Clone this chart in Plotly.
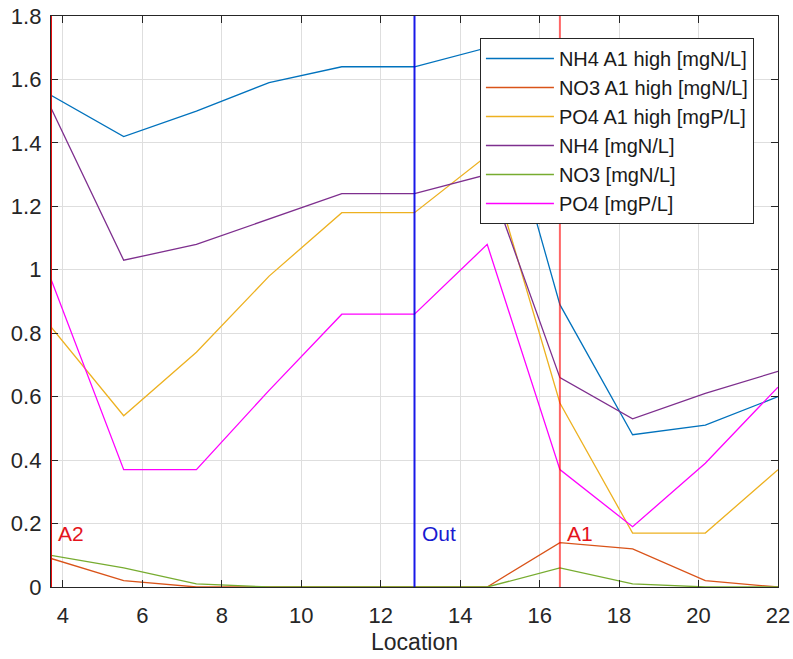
import plotly.graph_objects as go

# ---- data ----
location = [3.70, 5.53, 7.36, 9.19, 11.02, 12.85, 14.68, 16.51, 18.34, 20.17, 22.00]

nh4_a1_high = [1.55, 1.42, 1.50, 1.59, 1.64, 1.64, 1.70, 0.89, 0.48, 0.51, 0.60]
no3_a1_high = [0.09, 0.02, 0.00, 0.00, 0.00, 0.00, 0.00, 0.14, 0.12, 0.02, 0.00]
po4_a1_high = [0.82, 0.54, 0.74, 0.98, 1.18, 1.18, 1.36, 0.58, 0.17, 0.17, 0.37]
nh4 = [1.51, 1.03, 1.08, 1.16, 1.24, 1.24, 1.30, 0.66, 0.53, 0.61, 0.68]
no3 = [0.10, 0.06, 0.01, 0.00, 0.00, 0.00, 0.00, 0.06, 0.01, 0.00, 0.00]
po4 = [0.97, 0.37, 0.37, 0.62, 0.86, 0.86, 1.08, 0.37, 0.19, 0.39, 0.63]

series_names = ["NH4 A1 high [mgN/L]", "NO3 A1 high [mgN/L]", "PO4 A1 high [mgP/L]",
                "NH4 [mgN/L]", "NO3 [mgN/L]", "PO4 [mgP/L]"]
series_values = [nh4_a1_high, no3_a1_high, po4_a1_high, nh4, no3, po4]
series_colors = ["#0072BD", "#D95319", "#EDB120", "#7E2F8E", "#77AC30", "#FF00FF"]

marker_names = ["A2", "Out", "A1"]
marker_locations = [3.70, 12.85, 16.51]
marker_colors = ["rgba(230,0,0,0.95)", "rgba(0,0,230,0.9)", "rgba(255,0,0,0.6)"]
marker_text_colors = ["#E4141C", "#1A1AD0", "#E4141C"]

x_ticks = [4, 6, 8, 10, 12, 14, 16, 18, 20, 22]
y_ticks = [0, 0.2, 0.4, 0.6, 0.8, 1.0, 1.2, 1.4, 1.6, 1.8]

FONT = "Arial, 'Liberation Sans', Helvetica, sans-serif"
AX = "#262626"

fig = go.Figure()
for name, vals, col in zip(series_names, series_values, series_colors):
    fig.add_trace(go.Scatter(x=location, y=vals, mode="lines", name=name,
                             line=dict(color=col, width=1.3)))

for nm, xl, lc, tc in zip(marker_names, marker_locations, marker_colors, marker_text_colors):
    fig.add_shape(type="line", x0=xl, x1=xl, y0=0, y1=1, xref="x", yref="y domain",
                  line=dict(color=lc, width=2), layer="above")
    fig.add_annotation(x=xl, y=0.17, xref="x", yref="y", text=nm, showarrow=False,
                       xanchor="left", yanchor="middle", xshift=5,
                       font=dict(family=FONT, size=21, color=tc))

fig.update_layout(
    width=793, height=659,
    margin=dict(l=51, r=15, t=16, b=72),
    paper_bgcolor="white", plot_bgcolor="white",
    font=dict(family=FONT, size=21, color=AX),
    showlegend=True,
    legend=dict(x=0.590, y=0.9615, xanchor="left", yanchor="top",
                bgcolor="white", bordercolor="#262626", borderwidth=1,
                font=dict(family=FONT, size=20, color="#1a1a1a"),
                tracegroupgap=0, itemwidth=68),
)
fig.update_xaxes(range=[3.70, 22.0], tickvals=x_ticks, ticks="inside", ticklen=7,
                 tickcolor=AX, showline=True, linecolor=AX, linewidth=1.3, mirror="ticks",
                 showgrid=True, gridcolor="#DEDEDE", gridwidth=1, zeroline=False,
                 automargin=False, ticklabelstandoff=8,
                 tickfont=dict(size=22, color=AX),
                 title=dict(text="Location", font=dict(size=23, color=AX), standoff=7))
fig.update_yaxes(range=[0, 1.8], tickvals=y_ticks, ticks="inside", ticklen=7,
                 tickcolor=AX, showline=True, linecolor=AX, linewidth=1.3, mirror="ticks",
                 showgrid=True, gridcolor="#DEDEDE", gridwidth=1, zeroline=False,
                 automargin=False, ticklabelstandoff=4,
                 tickfont=dict(size=22, color=AX))

fig.write_html("out.html")
